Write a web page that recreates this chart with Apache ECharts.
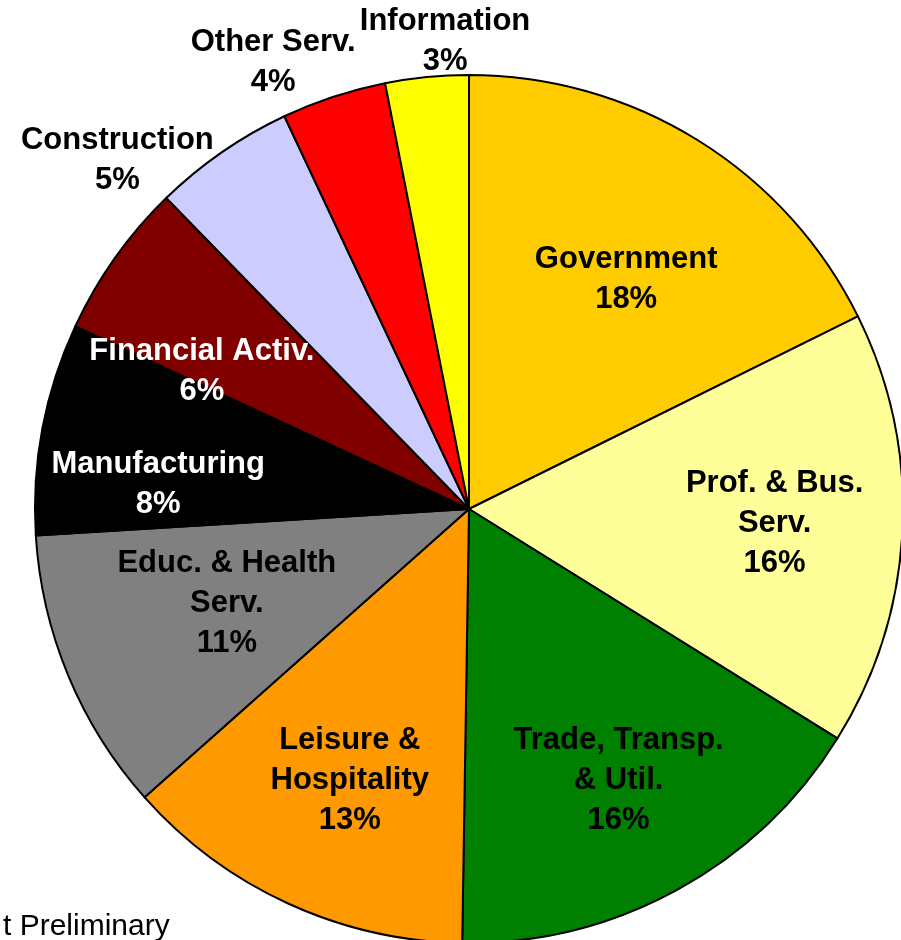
<!DOCTYPE html>
<html><head><meta charset="utf-8">
<script src="https://cdn.jsdelivr.net/npm/echarts@6/dist/echarts.min.js"></script>
<style>html,body{margin:0;padding:0;background:#fff}#c{width:901px;height:940px}</style>
</head><body><div id="c"></div>
<script>
const categories = ['Government','Prof. & Bus.\nServ.','Trade, Transp.\n& Util.','Leisure &\nHospitality','Educ. & Health\nServ.','Manufacturing','Financial Activ.','Construction','Other Serv.','Information'];
const shares = [17.7, 16.2, 16.4, 13.2, 10.6, 7.9, 5.8, 5.3, 3.9, 3.1];
const colors = ['#FFCC00','#FFFF99','#008000','#FF9900','#808080','#000000','#800000','#CCCCFF','#FF0000','#FFFF00'];
const labelColors = ['#000','#000','#000','#000','#000','#fff','#fff','#000','#000','#000'];
const labelOffsets = [[0,24],[8,0],[7,10],[5,1],[33,-20],[-18,31],[-24,35],[-182,-104],[-103,-163],[5,-171]];

const chart = echarts.init(document.getElementById('c'), null, {renderer:'canvas'});
const font = {fontFamily:'"Liberation Sans", Arial, sans-serif', fontWeight:'bold', fontSize:31, lineHeight:40};
const mainData = categories.map((n,i)=>({name:n, value:shares[i], itemStyle:{color:colors[i]}}));
const labelData = categories.map((n,i)=>({name:n, value:shares[i],
  label:Object.assign({show:true, position:'inside', color:labelColors[i], offset:labelOffsets[i], align:'center', verticalAlign:'middle'}, font)}));
chart.setOption({
  animation:false,
  backgroundColor:'#fff',
  title:{text:'t Preliminary', left:-2, top:907, textStyle:{fontFamily:'"Liberation Sans", Arial, sans-serif', fontWeight:'normal', fontSize:30, color:'#000'}},
  series:[
    {type:'pie', center:[469,509], radius:[0,434], startAngle:90, clockwise:true, silent:true,
     label:{show:false}, labelLine:{show:false},
     itemStyle:{borderColor:'#000', borderWidth:2}, data:mainData},
    {type:'pie', center:[469,509], radius:[0,590], startAngle:90, clockwise:true, silent:true, z:5,
     itemStyle:{color:'rgba(0,0,0,0)', borderWidth:0}, labelLine:{show:false},
     label:{formatter:p=>p.name+'\n'+Math.round(p.percent)+'%'},
     data:labelData}
  ]
});
</script></body></html>
